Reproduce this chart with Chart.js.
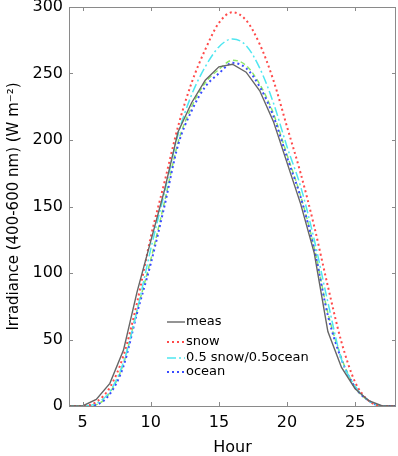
<!DOCTYPE html>
<html>
<head>
<meta charset="utf-8">
<script src="https://cdn.jsdelivr.net/npm/chart.js@4/dist/chart.umd.min.js"></script>
<style>
html,body{margin:0;padding:0;background:#fff;}
#wrap{width:398px;height:456px;position:relative;}
</style>
</head>
<body>
<div id="wrap"><canvas id="c" width="398" height="456"></canvas></div>
<script>
// ---- data ----
const hours = [4,5,6,7,8,9,10,11,12,13,14,15,16,17,18,19,20,21,22,23,24,25,26,27,28];
const meas  = [0,0,5,17,42,86,124,162,206,228,245,255,257,251,237,214,183,152,115,56,29,13,4,0,0];
const snow  = [0,0,3,14,38,78,127,168,210,243,268,288,296,290,272,245,210,175,135,90,48,18,4,0,0];
const mix   = [0,0,2,11,33,72,118,160,204,234,255,270,276,271,254,228,195,165,125,78,35,15,4,0,0];
const ocean = [0,0,1,9,30,70,107,150,196,222,240,250,258,254,240,218,187,157,118,68,35,14,4,0,0];
const green = [0,0,1,10,32,72,110,153,198,225,243,253,260,256,242,220,189,158,119,70,36,14,4,0,0];
const seriesLabels = ['meas','snow','0.5 snow/0.5ocean','ocean'];
const xTickValues = [5,10,15,20,25];
const yTickValues = [0,50,100,150,200,250,300];
const xTitle = 'Hour';
const yTitle = 'Irradiance (400-600 nm) (W m\u207B\u00B2)';

const pts = arr => hours.map((h,i)=>({x:h,y:arr[i]}));
const FONT = 'DejaVu Sans';
const FRAME = '#8a8a8a';

const legendPlugin = {
  id:'inlegend',
  afterDatasetsDraw(chart){
    const ctx = chart.ctx;
    const rows = [322, 342, 358, 372];
    ctx.save();
    ctx.font = '13px "' + FONT + '"';
    ctx.textBaseline = 'middle';
    ctx.fillStyle = '#000';
    chart.data.datasets.forEach((ds, i) => {
      if (i >= seriesLabels.length) return;
      const y = rows[i];
      ctx.beginPath();
      ctx.strokeStyle = ds.borderColor;
      ctx.lineWidth = ds.borderWidth;
      ctx.setLineDash(ds.borderDash || []);
      ctx.moveTo(167, y); ctx.lineTo(185, y);
      ctx.stroke();
      ctx.setLineDash([]);
      ctx.fillText(ds.label, 186, y);
    });
    ctx.restore();
  }
};

const framePlugin = {
  id:'frame',
  afterDraw(chart){
    const {ctx, chartArea:a, scales:{x, y}} = chart;
    ctx.save();
    ctx.strokeStyle = FRAME;
    ctx.lineWidth = 1;
    ctx.strokeRect(Math.round(a.left)+0.5, Math.round(a.top)+0.5, Math.round(a.right-a.left)-1, Math.round(a.bottom-a.top));
    ctx.beginPath();
    const L = 4;
    xTickValues.forEach(v => {
      const px = Math.round(x.getPixelForValue(v)) + 0.5;
      ctx.moveTo(px, a.bottom); ctx.lineTo(px, a.bottom - L);
      ctx.moveTo(px, a.top); ctx.lineTo(px, a.top + L);
    });
    yTickValues.forEach(v => {
      const py = Math.round(y.getPixelForValue(v)) + 0.5;
      ctx.moveTo(a.left, py); ctx.lineTo(a.left + L, py);
      ctx.moveTo(a.right, py); ctx.lineTo(a.right - L, py);
    });
    ctx.stroke();
    ctx.restore();
  }
};

new Chart(document.getElementById('c'), {
  type:'line',
  data:{
    datasets:[
      {label:seriesLabels[0], data:pts(meas), borderColor:'#666666', borderWidth:1.4, tension:0, pointRadius:0},
      {label:seriesLabels[1], data:pts(snow), borderColor:'#ff4a4a', borderWidth:2, borderDash:[2,3], cubicInterpolationMode:'monotone', pointRadius:0},
      {label:seriesLabels[2], data:pts(mix), borderColor:'#4fe6f0', borderWidth:1.5, borderDash:[9,3,2,3], cubicInterpolationMode:'monotone', pointRadius:0},
      {label:seriesLabels[3], data:pts(ocean), borderColor:'#3a4cff', borderWidth:2, borderDash:[2,3], cubicInterpolationMode:'monotone', pointRadius:0},
      {label:'', data:pts(green), borderColor:'#8ee86a', borderWidth:1.5, borderDash:[5,3], cubicInterpolationMode:'monotone', pointRadius:0}
    ]
  },
  options:{
    responsive:false,
    animation:false,
    devicePixelRatio:1,
    layout:{padding:{top:7,right:2,left:0,bottom:0}},
    plugins:{legend:{display:false}, tooltip:{enabled:false}},
    scales:{
      x:{
        type:'linear', min:4, max:28,
        afterBuildTicks(s){ s.ticks = xTickValues.map(v=>({value:v})); },
        afterFit(s){ s.height = 50; s.paddingLeft = 0; s.paddingRight = 0; },
        grid:{display:false, drawTicks:false},
        border:{display:false},
        ticks:{padding:7, color:'#000', font:{family:FONT, size:16}, maxRotation:0},
        title:{display:true, text:xTitle, color:'#000', font:{family:FONT, size:16, lineHeight:1}, padding:{top:0,bottom:0}}
      },
      y:{
        type:'linear', min:0, max:300,
        afterBuildTicks(s){ s.ticks = yTickValues.map(v=>({value:v})); },
        afterFit(s){ s.width = 69; s.paddingTop = 0; s.paddingBottom = 0; },
        grid:{display:false, drawTicks:false},
        border:{display:false},
        ticks:{padding:6, color:'#000', font:{family:FONT, size:16}},
        title:{display:true, text:yTitle, color:'#000', font:{family:FONT, size:15, lineHeight:1}, padding:{top:7,bottom:0}}
      }
    }
  },
  plugins:[framePlugin, legendPlugin]
});
</script>
</body>
</html>
